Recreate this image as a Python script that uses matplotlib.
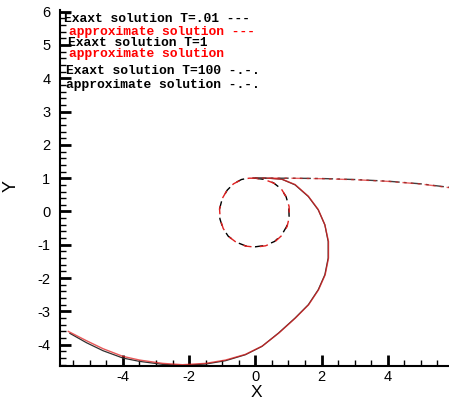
import matplotlib.pyplot as plt
from matplotlib.ticker import MultipleLocator

plt.rcParams['font.family'] = ['Liberation Sans', 'DejaVu Sans']
plt.rcParams['axes.unicode_minus'] = False

# T=.01 : closed loop around the origin
t01_exact_x = [0.0, 0.3, 0.55, 0.78, 0.93, 1.01, 1.02, 0.95, 0.8, 0.58, 0.3, 0.0, -0.3, -0.58,
               -0.82, -0.98, -1.07, -1.08, -1.0, -0.85, -0.65, -0.42, -0.18, 0.0]
t01_exact_y = [1.0, 0.96, 0.86, 0.68, 0.44, 0.16, -0.14, -0.44, -0.7, -0.9, -1.02, -1.06, -1.03, -0.92,
               -0.74, -0.5, -0.22, 0.08, 0.38, 0.64, 0.84, 0.96, 1.01, 1.0]
t01_approx_x = [0.0, 0.3, 0.56, 0.79, 0.94, 1.02, 1.03, 0.96, 0.81, 0.59, 0.31, 0.01, -0.29, -0.57,
                -0.81, -0.97, -1.06, -1.08, -1.01, -0.86, -0.66, -0.43, -0.19, 0.0]
t01_approx_y = [1.0, 0.95, 0.85, 0.67, 0.43, 0.15, -0.15, -0.45, -0.71, -0.91, -1.03, -1.07, -1.04, -0.93,
                -0.75, -0.51, -0.23, 0.07, 0.37, 0.63, 0.83, 0.95, 1.0, 1.0]

# T=1 : large spiral arc
t1_exact_x = [0.0, 0.4, 0.8, 1.2, 1.6, 1.9, 2.1, 2.2, 2.2, 2.1, 1.9, 1.6, 1.2, 0.7, 0.2, -0.3,
              -0.9, -1.5, -2.2, -2.8, -3.5, -4.0, -4.6, -5.1, -5.6]
t1_exact_y = [1.0, 1.0, 0.97, 0.8, 0.45, 0.05, -0.4, -0.9, -1.4, -1.9, -2.35, -2.8, -3.2, -3.65,
              -4.05, -4.3, -4.48, -4.58, -4.62, -4.59, -4.5, -4.4, -4.18, -3.94, -3.66]
t1_approx_x = [0.0, 0.4, 0.8, 1.2, 1.6, 1.9, 2.1, 2.21, 2.21, 2.11, 1.91, 1.61, 1.21, 0.71, 0.21, -0.3,
               -0.9, -1.5, -2.2, -2.8, -3.5, -4.0, -4.6, -5.1, -5.65]
t1_approx_y = [1.0, 1.0, 0.97, 0.81, 0.46, 0.06, -0.4, -0.9, -1.4, -1.9, -2.35, -2.8, -3.2, -3.65,
               -4.04, -4.29, -4.46, -4.56, -4.6, -4.56, -4.46, -4.35, -4.12, -3.88, -3.6]

# T=100 : almost straight line to the right
t100_exact_x = [0.0, 1.0, 2.0, 3.0, 4.0, 5.0, 5.9]
t100_exact_y = [1.0, 1.0, 0.99, 0.96, 0.91, 0.83, 0.72]
t100_approx_x = [0.0, 1.0, 2.0, 3.0, 4.0, 5.0, 5.9]
t100_approx_y = [1.0, 1.0, 0.985, 0.955, 0.905, 0.825, 0.71]

legend_lines = [
    ('Exaxt solution T=.01 ---', 'black'),
    ('approximate solution ---', 'red'),
    ('Exaxt solution T=1', 'black'),
    ('approximate solution', 'red'),
    ('Exaxt solution T=100 -.-.', 'black'),
    ('approximate solution -.-.', 'black'),
]

W, H = 449, 403
fig = plt.figure(figsize=(W / 100, H / 100), dpi=100)
ax = fig.add_axes([60 / W, 1 - 365.7 / H, 1 - 60 / W, (365.7 - 10) / H])

red = '#e02020'
ax.plot(t01_exact_x, t01_exact_y, color='black', lw=1.0, ls=(0, (6, 6)))
ax.plot(t01_approx_x, t01_approx_y, color=red, lw=1.0, ls=(3, (6, 6)))
ax.plot(t1_exact_x, t1_exact_y, color='#303030', lw=0.9)
ax.plot(t1_approx_x, t1_approx_y, color=red, lw=1.0, alpha=0.75)
ax.plot(t100_exact_x, t100_exact_y, color='#404040', lw=1.0, ls=(0, (8, 3, 2, 3)))
ax.plot(t100_approx_x, t100_approx_y, color=red, lw=1.0, ls=(6, (8, 3, 2, 3)), alpha=0.7)

ax.set_xlim(-5.9, 5.85)
ax.set_ylim(-4.63, 6.05)
ax.xaxis.set_major_locator(MultipleLocator(2))
ax.xaxis.set_minor_locator(MultipleLocator(0.5))
ax.yaxis.set_major_locator(MultipleLocator(1))
ax.yaxis.set_minor_locator(MultipleLocator(0.2))
ax.tick_params(which='major', direction='in', length=8, width=2, labelsize=10.5)
ax.tick_params(which='minor', direction='in', length=4, width=1)
ax.tick_params(axis='x', pad=3)
ax.tick_params(axis='y', pad=7)
for s in ['top', 'right']:
    ax.spines[s].set_visible(False)
for s in ['left', 'bottom']:
    ax.spines[s].set_linewidth(1.5)

ax.set_xlabel('X', fontsize=12.5)
ax.set_ylabel('Y', fontsize=13, rotation=90)
ax.xaxis.set_label_coords((256 - 60) / (W - 60), -19 / 355.7)
ax.yaxis.set_label_coords(-40 / (W - 60), (365.7 - 186) / 355.7)

# legend text block in the upper left
text_pos = [(64, 19), (69, 32), (68, 43), (69, 54), (66, 71), (66, 85)]
for (txt, col), (px, py) in zip(legend_lines, text_pos):
    fig.text(px / W, 1 - py / H, txt, color=col, fontsize=9.4, fontweight='bold',
             family='Liberation Mono', ha='left', va='center')

fig.savefig('out.png', dpi=100)
